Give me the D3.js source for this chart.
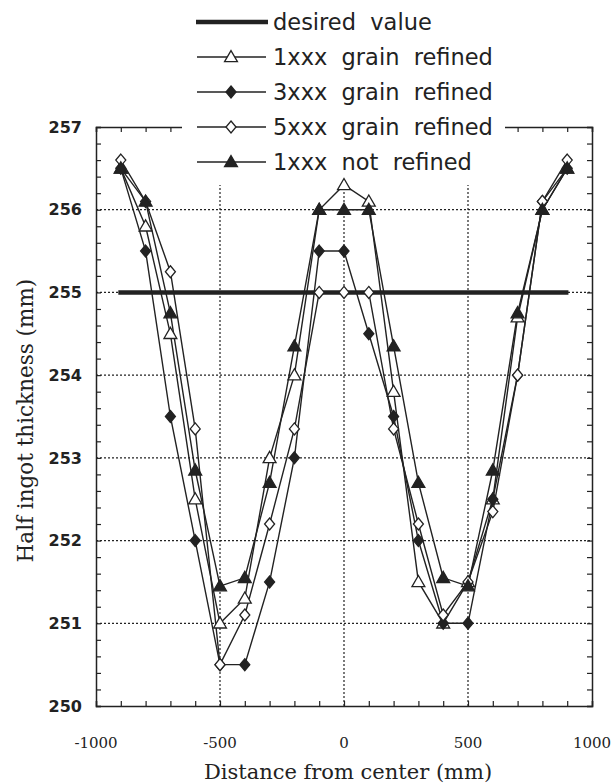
<!DOCTYPE html>
<html>
<head>
<meta charset="utf-8">
<script src="https://cdn.jsdelivr.net/npm/d3@7/dist/d3.min.js"></script>
<style>
  html, body { margin: 0; padding: 0; background: #fff; }
  svg { display: block; }
</style>
</head>
<body>
<svg id="chart" width="615" height="783"></svg>
<script>
// ---- data ----
const positions = [-900, -800, -700, -600, -500, -400, -300, -200, -100, 0, 100, 200, 300, 400, 500, 600, 700, 800, 900];
const refined1xxx = [256.5, 255.8, 254.5, 252.5, 251.0, 251.3, 253.0, 254.0, 256.0, 256.3, 256.1, 253.8, 251.5, 251.0, 251.5, 252.5, 254.7, 256.0, 256.5];
const refined3xxx = [256.5, 255.5, 253.5, 252.0, 250.5, 250.5, 251.5, 253.0, 255.5, 255.5, 254.5, 253.5, 252.0, 251.0, 251.0, 252.5, 254.0, 256.1, 256.5];
const refined5xxx = [256.6, 256.1, 255.25, 253.35, 250.5, 251.1, 252.2, 253.35, 255.0, 255.0, 255.0, 253.35, 252.2, 251.1, 251.5, 252.35, 254.0, 256.1, 256.6];
const notRefined1xxx = [256.5, 256.1, 254.75, 252.85, 251.45, 251.55, 252.7, 254.35, 256.0, 256.0, 256.0, 254.35, 252.7, 251.55, 251.45, 252.85, 254.75, 256.0, 256.5];
const desiredValue = 255;
const desiredRange = [-910, 905];
const xTicks = [-1000, -500, 0, 500, 1000];
const yTicks = [250, 251, 252, 253, 254, 255, 256, 257];
const legendLabels = ["desired  value", "1xxx  grain  refined", "3xxx  grain  refined", "5xxx  grain  refined", "1xxx  not  refined"];
const xTitle = "Distance from center (mm)";
const yTitle = "Half ingot thickness (mm)";

// ---- layout ----
const ink = "#222";
const svg = d3.select("#chart");
const x = d3.scaleLinear().domain([-1000, 1000]).range([96, 592]);
const y = d3.scaleLinear().domain([250, 257]).range([706, 127]);

// grid
const grid = svg.append("g").attr("stroke", ink).attr("stroke-width", 1.2).attr("stroke-dasharray", "2,2");
[251, 252, 253, 254, 255, 256].forEach(v => {
  grid.append("line").attr("x1", x(-1000)).attr("x2", x(1000)).attr("y1", y(v)).attr("y2", y(v));
});
[-500, 0, 500].forEach(v => {
  grid.append("line").attr("x1", x(v)).attr("x2", x(v)).attr("y1", y(250)).attr("y2", y(257));
});

// axes (ticks inward, all four sides)
const xMinor = d3.range(-1000, 1001, 100);
const yMinor = d3.range(250, 257.001, 0.2);
const ax = svg.append("g");
ax.append("g").attr("transform", `translate(0,${y(250)})`)
  .call(d3.axisBottom(x).tickValues(xMinor).tickSize(-5).tickFormat(""));
ax.append("g").attr("transform", `translate(0,${y(257)})`)
  .call(d3.axisTop(x).tickValues(xMinor).tickSize(-5).tickFormat(""));
ax.append("g").attr("transform", `translate(${x(-1000)},0)`)
  .call(d3.axisLeft(y).tickValues(yMinor).tickSize(-5).tickFormat(""));
ax.append("g").attr("transform", `translate(${x(1000)},0)`)
  .call(d3.axisRight(y).tickValues(yMinor).tickSize(-5).tickFormat(""));
ax.selectAll("path.domain").attr("stroke", ink).attr("stroke-width", 1.5);
ax.selectAll(".tick line").attr("stroke", ink).attr("stroke-width", 1.2);

// tick labels
svg.append("g").selectAll("text").data(yTicks).join("text")
  .attr("x", 82).attr("y", d => y(d)).attr("dy", "0.36em")
  .attr("text-anchor", "end")
  .attr("font-family", "DejaVu Sans").attr("font-weight", "bold").attr("font-size", 16)
  .attr("fill", ink).text(d => d);
svg.append("g").selectAll("text").data(xTicks).join("text")
  .attr("x", d => x(d)).attr("y", 748)
  .attr("text-anchor", "middle")
  .attr("font-family", "DejaVu Serif").attr("font-size", 15)
  .attr("fill", ink).text(d => d);

// axis titles
svg.append("text").attr("x", x(0) + 4).attr("y", 779).attr("text-anchor", "middle")
  .attr("font-family", "DejaVu Serif").attr("font-size", 21).attr("fill", ink).text(xTitle);
svg.append("text").attr("transform", `translate(33,${y(253.45)}) rotate(-90)`).attr("text-anchor", "middle")
  .attr("font-family", "DejaVu Serif").attr("font-size", 21.5).attr("fill", ink).text(yTitle);

// legend background
svg.append("rect").attr("x", 182).attr("y", 0).attr("width", 323).attr("height", 185).attr("fill", "#fff");

// markers
const triPath = d3.symbol().type(d3.symbolTriangle).size(72)();
const diaPath = "M0,-6L5,0L0,6L-5,0Z";
const series = [
  { vals: refined1xxx, path: triPath, fill: "#fff", dy: 1 },
  { vals: refined3xxx, path: diaPath, fill: ink, dy: 0 },
  { vals: refined5xxx, path: diaPath, fill: "#fff", dy: 0 },
  { vals: notRefined1xxx, path: triPath, fill: ink, dy: 1 }
];

// desired line
svg.append("line").attr("x1", x(desiredRange[0])).attr("x2", x(desiredRange[1]))
  .attr("y1", y(desiredValue)).attr("y2", y(desiredValue))
  .attr("stroke", ink).attr("stroke-width", 4.5);

const line = d3.line().x(d => x(d[0])).y(d => y(d[1]));
series.forEach(s => {
  const pts = positions.map((p, i) => [p, s.vals[i]]);
  svg.append("path").attr("d", line(pts)).attr("fill", "none").attr("stroke", ink).attr("stroke-width", 1.4);
});
series.forEach(s => {
  const pts = positions.map((p, i) => [p, s.vals[i]]);
  svg.append("g").selectAll("path").data(pts).join("path")
    .attr("d", s.path)
    .attr("transform", d => `translate(${x(d[0])},${y(d[1]) + s.dy})`)
    .attr("fill", s.fill).attr("stroke", ink).attr("stroke-width", 1.3);
});

// legend
const legRowY = d3.scaleLinear().domain([0, 4]).range([22, 162]);
const leg = svg.append("g");
legendLabels.forEach((lab, i) => {
  const yy = legRowY(i);
  if (i === 0) {
    leg.append("line").attr("x1", 196).attr("x2", 268).attr("y1", yy).attr("y2", yy)
      .attr("stroke", ink).attr("stroke-width", 4.5);
  } else {
    const s = series[i - 1];
    leg.append("line").attr("x1", 197).attr("x2", 266).attr("y1", yy).attr("y2", yy)
      .attr("stroke", ink).attr("stroke-width", 1.4);
    leg.append("path").attr("d", s.path).attr("transform", `translate(231,${yy + s.dy})`)
      .attr("fill", s.fill).attr("stroke", ink).attr("stroke-width", 1.3);
  }
  leg.append("text").attr("x", 273).attr("y", yy).attr("dy", "0.36em")
    .attr("font-family", "DejaVu Sans").attr("font-size", 22.5).attr("fill", ink)
    .style("white-space", "pre").text(lab);
});
</script>
</body>
</html>
